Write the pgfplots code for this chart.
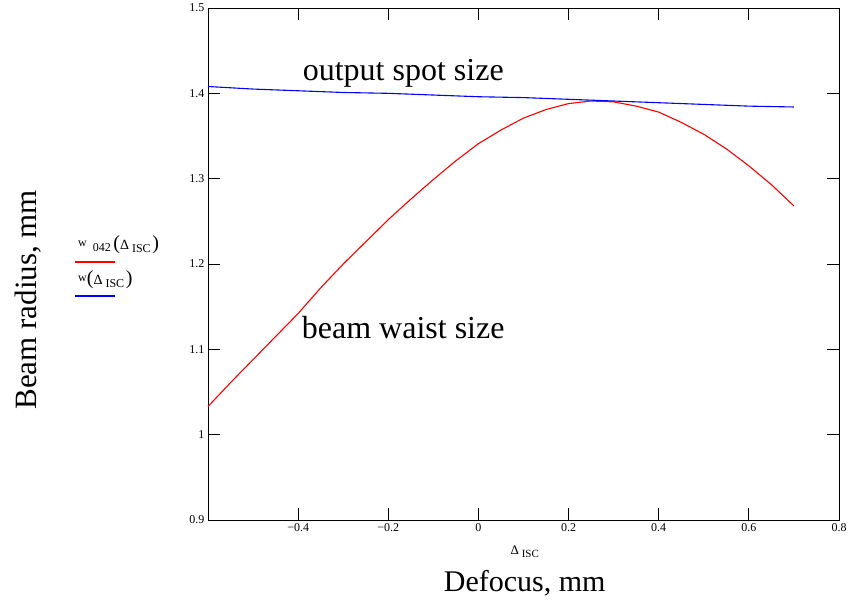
\documentclass[border=0pt]{standalone}
\usepackage{fontspec}
\setmainfont{Liberation Serif}
\usepackage{pgfplots}
\pgfplotsset{compat=1.18}

\newcommand{\bigtxt}[1]{\fontsize{30}{34}\selectfont #1}
\newcommand{\anntxt}[1]{\fontsize{32}{36}\selectfont #1}
\newcommand{\deltaisc}{{\fontsize{13}{15}\selectfont Δ}\raisebox{-3pt}{\fontsize{11}{12}\selectfont\ ISC}}
\newcommand{\legdelta}{{\fontsize{14}{16}\selectfont Δ}\raisebox{-3pt}{\fontsize{12}{13}\selectfont\ ISC}}

\begin{document}
\begin{tikzpicture}
\begin{axis}[
    scale only axis,
    width=631pt, height=512pt,
    xmin=-0.6, xmax=0.8,
    ymin=0.9, ymax=1.5,
    xtick={-0.4,-0.2,0,0.2,0.4,0.6,0.8},
    xticklabels={−0.4,−0.2,0,0.2,0.4,0.6,0.8},
    ytick={0.9,1,1.1,1.2,1.3,1.4,1.5},
    yticklabels={0.9,1,1.1,1.2,1.3,1.4,1.5},
    tick align=inside,
    xtick pos=both, ytick pos=both,
    xticklabel pos=bottom, yticklabel pos=left,
    major tick length=12pt,
    tick style={black, line width=0.8pt},
    axis line style={black, line width=0.9pt},
    ticklabel style={font=\fontsize{12}{14}\selectfont},
    clip=false,
]

\addplot[color=red, line width=1.1pt] coordinates {
    (-0.6,1.033)(-0.55,1.061)(-0.5,1.088)(-0.45,1.115)(-0.4,1.142)
    (-0.35,1.172)(-0.3,1.200)(-0.25,1.226)(-0.2,1.252)(-0.15,1.276)
    (-0.1,1.299)(-0.05,1.321)(0,1.341)(0.05,1.357)(0.1,1.371)
    (0.15,1.381)(0.2,1.388)(0.25,1.391)(0.3,1.390)(0.35,1.385)
    (0.4,1.378)(0.45,1.366)(0.5,1.352)(0.55,1.335)(0.6,1.315)
    (0.65,1.293)(0.7,1.268) };

\addplot[color=blue, line width=1.1pt] coordinates {
    (-0.6,1.408)(-0.5,1.405)(-0.4,1.403)(-0.3,1.401)(-0.2,1.400)
    (-0.1,1.398)(0,1.396)(0.1,1.395)(0.2,1.393)(0.3,1.391)
    (0.4,1.389)(0.5,1.387)(0.6,1.385)(0.7,1.384) };

% annotations
\node[anchor=west, inner sep=0pt] at (axis cs:-0.39,1.424) {\anntxt{output spot size}};
\node[anchor=west, inner sep=0pt] at (axis cs:-0.392,1.125) {\anntxt{beam waist size}};

% axis labels
\node[rotate=90] at (axis description cs:-0.2853,0.43) {\fontsize{31}{35}\selectfont Beam radius, mm};
\node at (axis description cs:0.502,-0.123) {\bigtxt{Defocus, mm}};
\node at (axis description cs:0.502,-0.062) {\deltaisc};

% legend
\node[anchor=west, inner sep=0pt] at (axis description cs:-0.2060,0.537) {\raisebox{3pt}{\fontsize{12}{13}\selectfont w}\raisebox{-2pt}{\fontsize{12}{13}\selectfont\ \ 042}\ {\fontsize{20}{22}\selectfont(}\legdelta\,{\fontsize{20}{22}\selectfont)}};
\draw[draw=red, line width=1.2pt] (axis description cs:-0.2108,0.504) -- (axis description cs:-0.1474,0.504);
\node[anchor=west, inner sep=0pt] at (axis description cs:-0.2060,0.469) {\raisebox{3pt}{\fontsize{12}{13}\selectfont w}{\fontsize{20}{22}\selectfont(}\legdelta\,{\fontsize{20}{22}\selectfont)}};
\draw[draw=blue, line width=1.2pt] (axis description cs:-0.2108,0.4375) -- (axis description cs:-0.1474,0.4375);

\coordinate (bl) at (rel axis cs:0,0);
\coordinate (tr) at (rel axis cs:1,1);
\end{axis}
\pgfresetboundingbox
\path ([shift={(-208pt,-82pt)}]bl) rectangle ([shift={(10pt,8pt)}]tr);
\end{tikzpicture}
\end{document}
